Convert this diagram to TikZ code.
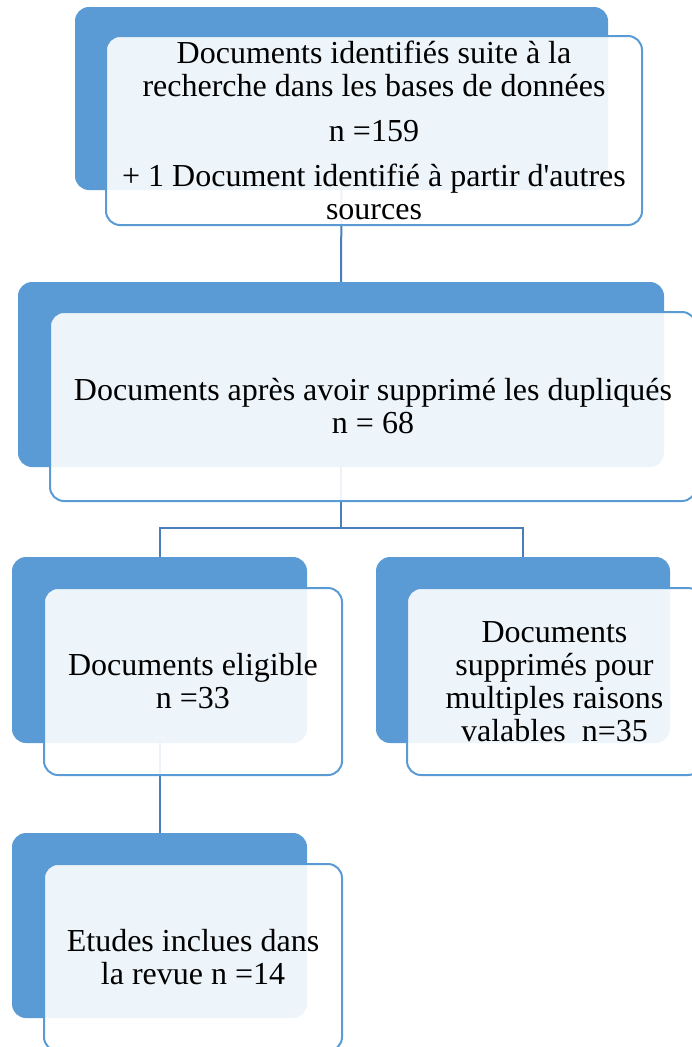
\documentclass[tikz,border=0pt]{standalone}
\usepackage{fontspec}
\setmainfont{Liberation Serif}[Ligatures=TeXOff]
\definecolor{accent}{HTML}{5B9BD5}
\definecolor{linkc}{HTML}{4A7EBB}
\begin{document}
\begin{tikzpicture}[x=1pt,y=-1pt,
  backbox/.style={fill=accent, draw=none, rounded corners=14pt, inner sep=0pt},
  frontbox/.style={fill=white, fill opacity=0.9, text opacity=1, draw=accent, line width=2pt,
    rounded corners=14pt, inner sep=0pt, align=center,
    font=\fontsize{32pt}{33pt}\selectfont},
  link/.style={draw=linkc, line width=2pt}]
\useasboundingbox (0,0) rectangle (691,1047);
% back boxes
\node[backbox, minimum width=533pt, minimum height=183pt] (b1) at (341.5,98.5) {};
\node[backbox, minimum width=646pt, minimum height=185pt] (b2) at (341,374.5) {};
\node[backbox, minimum width=295pt, minimum height=186pt] (b3) at (159.5,650) {};
\node[backbox, minimum width=294pt, minimum height=186pt] (b4) at (523,650) {};
\node[backbox, minimum width=295pt, minimum height=185pt] (b5) at (159.5,925.5) {};
% connectors
\coordinate (j) at (341,528);
\draw[link] (b1.south) -- (b2.north);
\draw[link] (b2.south) -- (j);
\draw[link] (b3.north) |- (j) -| (b4.north);
\draw[link] (b3.south) -- (b5.north);
% front boxes
\node[frontbox, minimum width=536pt, minimum height=189pt] (f1) at (374,130.5)
  {Documents identifiés suite à la\\recherche dans les bases de données\\[12pt]n =159\\[12pt]+ 1 Document identifié à partir d'autres\\sources};
\node[frontbox, minimum width=646pt, minimum height=189pt] (f2) at (373,406.5)
  {Documents après avoir supprimé les dupliqués\\n = 68};
\node[frontbox, minimum width=298pt, minimum height=187pt] (f3) at (193,681.5)
  {Documents eligible\\n =33};
\node[frontbox, minimum width=295pt, minimum height=187pt] (f4) at (554.5,681.5)
  {Documents\\supprimés pour\\multiples raisons\\valables~ n=35};
\node[frontbox, minimum width=298pt, minimum height=187pt] (f5) at (193,957.5)
  {Etudes inclues dans\\la revue n =14};
\end{tikzpicture}
\end{document}
